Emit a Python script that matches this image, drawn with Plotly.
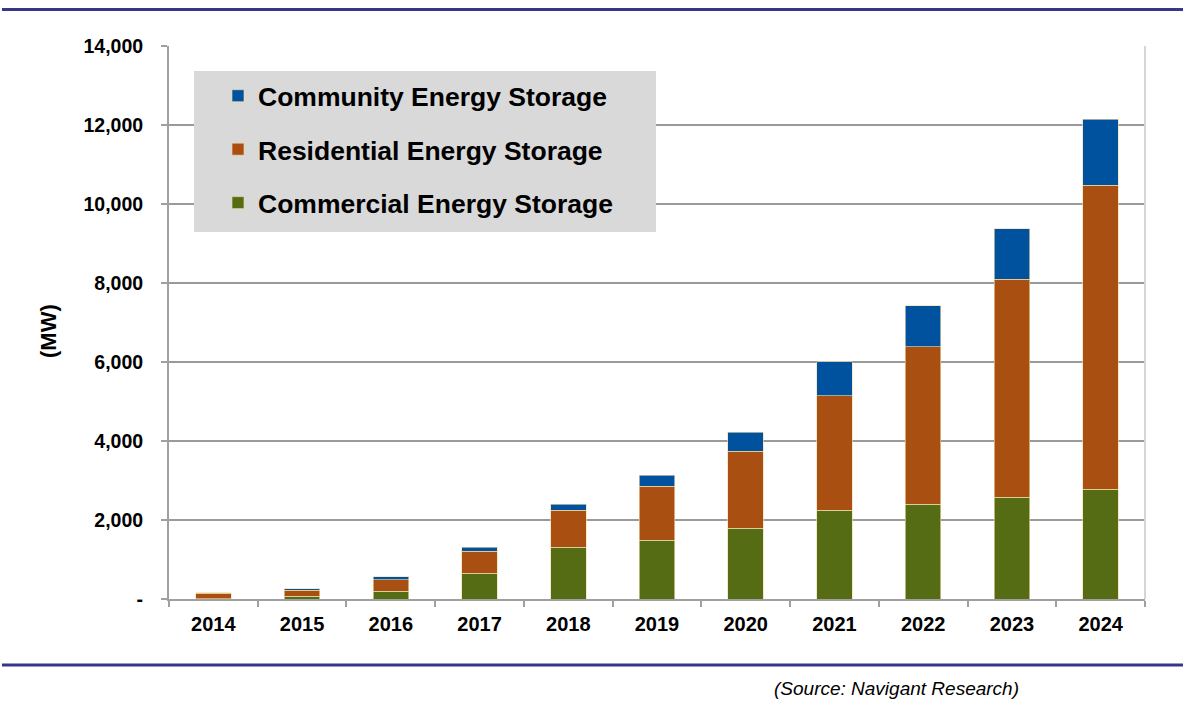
import plotly.graph_objects as go

years = ["2014", "2015", "2016", "2017", "2018", "2019", "2020", "2021", "2022", "2023", "2024"]
commercial = [10, 70, 200, 650, 1310, 1490, 1790, 2250, 2400, 2580, 2780]
residential = [140, 150, 290, 560, 940, 1370, 1950, 2890, 3980, 5510, 7700]
community = [10, 40, 70, 100, 150, 270, 480, 870, 1040, 1280, 1660]

series_names = ["Commercial Energy Storage", "Residential Energy Storage", "Community Energy Storage"]
series_colors = ["#566c14", "#aa4f12", "#01529e"]
legend_ranks = [3, 2, 1]
y_ticks = [0, 2000, 4000, 6000, 8000, 10000, 12000, 14000]
y_ticktext = ["-" if v == 0 else f"{v:,}" for v in y_ticks]

W, H = 1187, 703
L, R, T, B = 169, 42, 46, 104
PW = W - L - R
PH = H - T - B


def px_x(px):
    return (px - L) / PW


def px_y(py):
    return (H - B - py) / PH


FONT = "Arial, 'Liberation Sans', sans-serif"

fig = go.Figure()
for name, vals, col, rk in zip(series_names, [commercial, residential, community], series_colors, legend_ranks):
    fig.add_trace(go.Bar(
        x=years, y=vals, name=name, marker_color=col,
        marker_line=dict(color="rgba(240,220,170,0.8)", width=0.8),
        width=0.4, legendgroup=name, legendrank=rk,
    ))

shapes = [
    # legend background box
    dict(type="rect", xref="paper", yref="paper", x0=px_x(194), x1=px_x(656), y0=px_y(232), y1=px_y(71),
         fillcolor="#d9d9d9", line=dict(width=0), layer="above"),
    # right border
    dict(type="line", xref="paper", yref="paper", x0=1, x1=1, y0=0, y1=1,
         line=dict(color="#d6d6d6", width=2)),
    # top blue rule
    dict(type="line", xref="paper", yref="paper", x0=px_x(2), x1=px_x(1183), y0=px_y(9.5), y1=px_y(9.5),
         line=dict(color="#36378a", width=3)),
    # bottom blue rule
    dict(type="line", xref="paper", yref="paper", x0=px_x(2), x1=px_x(1183), y0=px_y(665), y1=px_y(665),
         line=dict(color="#36378a", width=3)),
]

annotations = [
    dict(text="(MW)", xref="paper", yref="paper", x=px_x(48), y=px_y(331), textangle=-90,
         showarrow=False, font=dict(family=FONT, size=22, color="#000", weight="bold"),
         xanchor="center", yanchor="middle"),
    dict(text="<i>(Source: Navigant Research)</i>", xref="paper", yref="paper", x=px_x(896), y=px_y(688),
         showarrow=False, font=dict(family=FONT, size=19, color="#000"),
         xanchor="center", yanchor="middle"),
]

fig.update_layout(
    width=W, height=H,
    margin=dict(l=L, r=R, t=T, b=B, pad=0),
    paper_bgcolor="white", plot_bgcolor="white",
    barmode="stack", bargap=0.6,
    shapes=shapes, annotations=annotations,
    showlegend=True,
    legend=dict(
        x=px_x(218), y=px_y(72), xanchor="left", yanchor="top",
        bgcolor="rgba(0,0,0,0)", borderwidth=0,
        font=dict(family=FONT, size=26.5, color="#000", weight="bold"),
        traceorder="grouped", tracegroupgap=16,
    ),
    xaxis=dict(
        type="category", tickson="boundaries", ticks="outside", ticklen=6, tickcolor="#a0a0a0",
        tickwidth=1.5, showline=True, linecolor="#a0a0a0", linewidth=2, showgrid=False,
        tickfont=dict(family=FONT, size=20, color="#000", weight="bold"),
        ticklabelstandoff=6,
    ),
    yaxis=dict(
        range=[0, 14000], tickvals=y_ticks, ticktext=y_ticktext,
        ticks="outside", ticklen=6, tickcolor="#a0a0a0", tickwidth=1.5,
        showline=True, linecolor="#a0a0a0", linewidth=2,
        showgrid=True, gridcolor="#9a9a9a", gridwidth=2, zeroline=False,
        tickfont=dict(family=FONT, size=19.5, color="#000", weight="bold"),
        ticklabelstandoff=14,
    ),
)

fig.write_html("out.html", config={"displayModeBar": False},
               post_script="document.body.style.margin='0';document.body.style.padding='0';")
